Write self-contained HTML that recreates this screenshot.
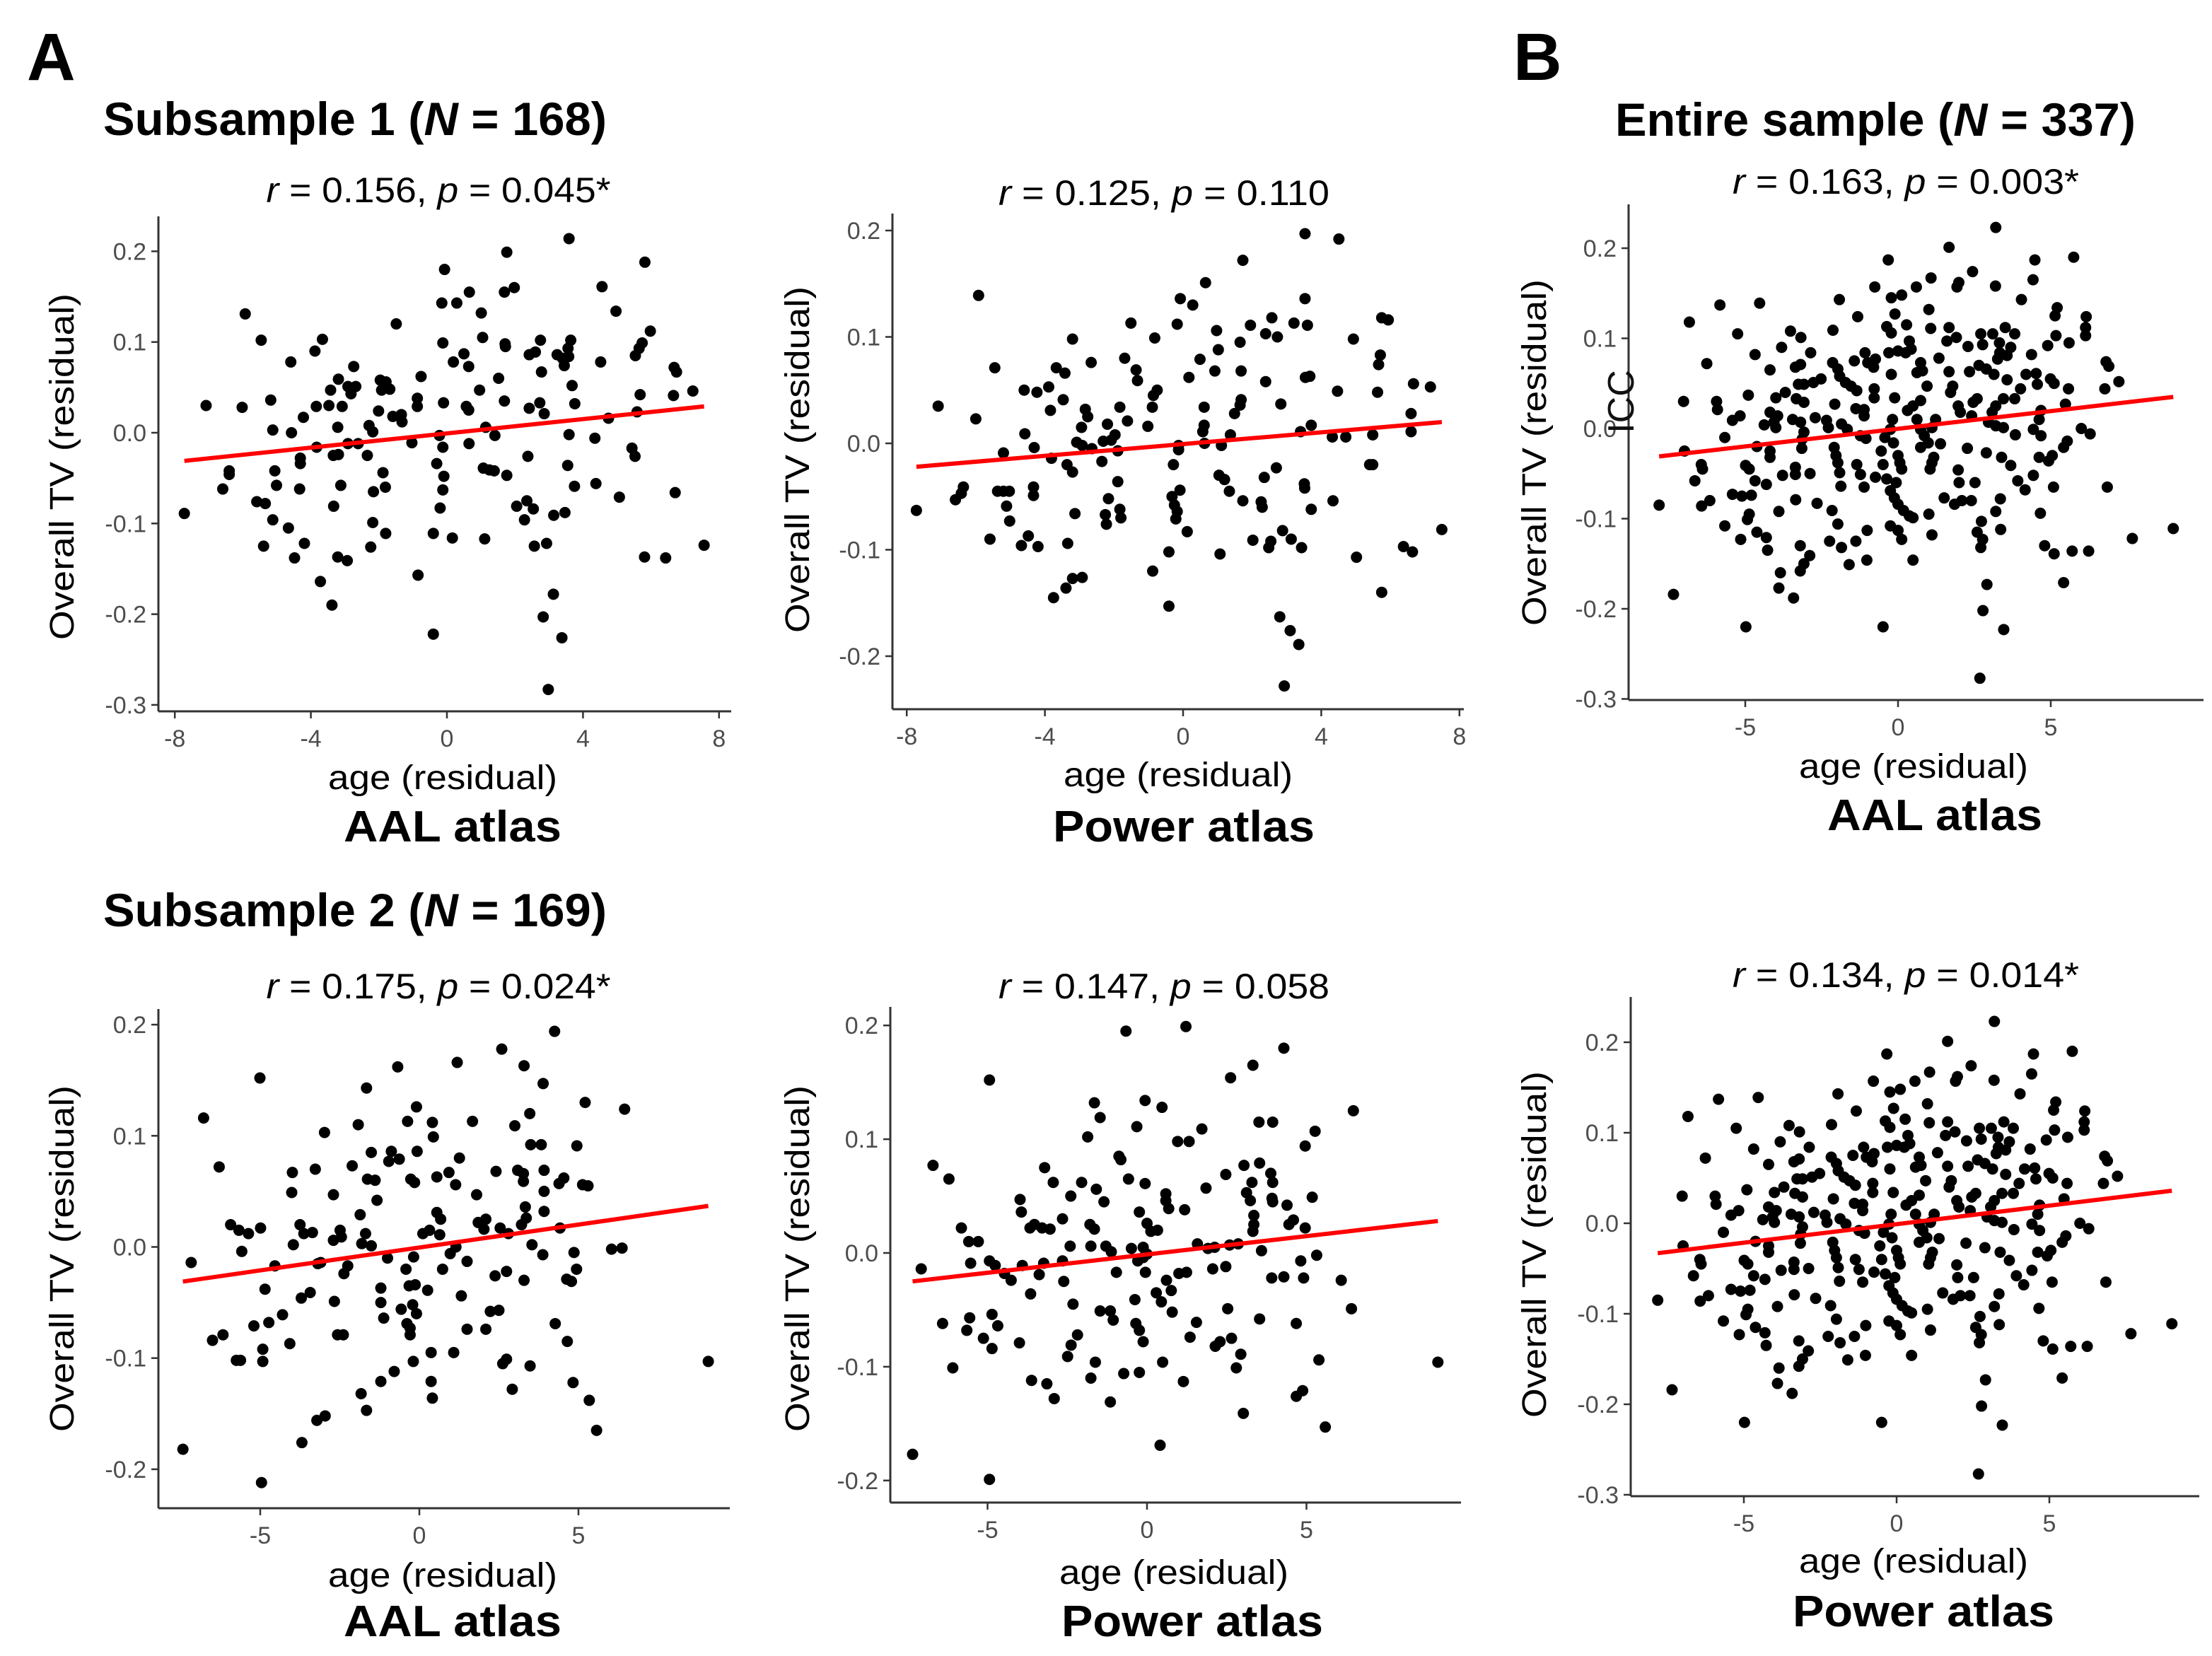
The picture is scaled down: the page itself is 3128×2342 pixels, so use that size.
<!DOCTYPE html>
<html><head><meta charset="utf-8"><title>Overall TV vs age</title>
<style>
html,body{margin:0;padding:0;background:#fff;}
svg{display:block;font-family:"Liberation Sans",Arial,sans-serif;}
</style></head>
<body>
<svg id="fig" xmlns="http://www.w3.org/2000/svg" width="3128" height="2342" viewBox="0 0 3128 2342">
<rect x="0" y="0" width="3128" height="2342" fill="#fff"/>
<text x="38" y="113" font-size="95" font-weight="bold">A</text>
<text x="2140" y="113" font-size="95" font-weight="bold">B</text>
<text x="146" y="191" font-size="66" font-weight="bold" textLength="712" lengthAdjust="spacingAndGlyphs">Subsample 1 (<tspan font-style="italic">N</tspan> = 168)</text>
<text x="146" y="1310" font-size="66" font-weight="bold" textLength="712" lengthAdjust="spacingAndGlyphs">Subsample 2 (<tspan font-style="italic">N</tspan> = 169)</text>
<text x="2284" y="192" font-size="66" font-weight="bold" textLength="736" lengthAdjust="spacingAndGlyphs">Entire sample (<tspan font-style="italic">N</tspan> = 337)</text>
<g id="panels"></g>
<text transform="translate(2310,568) rotate(-90)" text-anchor="middle" font-size="52" fill="#111">ICC</text>
</svg>
<script>
// ---------- data (age residual, Overall TV residual) ----------
const sub1AalPoints = [[-7.72,-0.089],[-7.08,0.030],[-6.59,-0.062],[-6.40,-0.042],[-6.40,-0.046],[-6.02,0.028],[-5.93,0.131],[-5.59,-0.076],[-5.34,-0.078],[-5.46,0.102],[-5.39,-0.125],[-5.18,0.036],[-5.12,0.003],[-5.12,-0.096],[-5.06,-0.042],[-5.01,-0.058],[-4.66,-0.105],[-4.59,0.078],[-4.57,0.0],[-4.48,-0.138],[-4.33,-0.062],[-4.31,-0.028],[-4.31,-0.034],[-4.22,0.017],[-4.19,-0.122],[-3.88,0.090],[-3.84,0.029],[-3.83,-0.016],[-3.72,-0.164],[-3.66,0.103],[-3.47,0.030],[-3.42,0.047],[-3.38,-0.190],[-3.34,-0.025],[-3.19,-0.024],[-3.33,-0.081],[-3.21,0.006],[-3.21,-0.137],[-2.93,-0.141],[-3.19,0.059],[-3.12,-0.058],[-3.08,0.029],[-2.91,0.051],[-2.82,0.043],[-2.68,0.051],[-2.91,-0.012],[-2.61,-0.012],[-2.74,0.073],[-2.34,-0.025],[-2.29,0.008],[-2.18,0.001],[-2.24,-0.126],[-2.18,-0.099],[-2.16,-0.065],[-2.01,0.024],[-1.96,0.058],[-1.79,0.056],[-1.92,0.047],[-1.68,0.048],[-1.88,-0.044],[-1.81,-0.060],[-1.80,-0.111],[-1.59,0.018],[-1.34,0.020],[-1.32,0.012],[-1.49,0.120],[-1.03,-0.011],[-0.87,0.038],[-0.87,0.029],[-0.85,-0.157],[-0.76,0.062],[-0.40,-0.111],[-0.40,-0.222],[-0.30,-0.034],[-0.22,-0.003],[-0.20,-0.083],[-0.15,0.143],[-0.12,0.099],[-0.12,-0.016],[-0.12,-0.063],[-0.10,0.033],[-0.09,-0.048],[-0.07,0.180],[0.16,-0.116],[0.19,0.078],[0.29,0.143],[0.50,0.087],[0.57,0.029],[0.64,0.025],[0.64,0.073],[0.65,-0.012],[0.66,0.155],[0.96,0.047],[1.01,0.132],[1.05,0.105],[1.07,-0.039],[1.25,-0.041],[1.39,-0.042],[1.11,-0.117],[1.14,0.006],[1.41,-0.003],[1.52,0.060],[1.69,0.155],[1.98,0.160],[1.69,0.035],[1.71,0.098],[1.72,0.095],[1.76,-0.047],[1.76,0.199],[2.05,-0.081],[2.28,-0.096],[2.35,-0.075],[2.54,-0.084],[2.38,-0.026],[2.42,0.027],[2.42,0.086],[2.60,0.089],[2.57,-0.125],[2.93,-0.122],[2.73,0.033],[2.75,0.102],[2.78,0.067],[2.83,-0.203],[2.86,0.021],[2.98,-0.283],[3.13,-0.178],[3.14,-0.091],[3.47,-0.088],[3.24,0.086],[3.40,0.082],[3.45,0.074],[3.58,0.084],[3.64,0.102],[3.56,0.093],[3.38,-0.226],[3.55,-0.036],[3.59,-0.002],[3.59,0.214],[3.68,0.052],[3.75,-0.059],[3.76,0.032],[4.35,-0.006],[4.38,-0.056],[4.52,0.078],[4.56,0.161],[4.75,0.016],[4.97,0.134],[5.07,-0.071],[5.44,-0.017],[5.53,-0.026],[5.54,0.085],[5.65,0.093],[5.74,0.099],[5.59,0.023],[5.68,0.042],[5.81,-0.137],[5.82,0.188],[5.98,0.112],[6.43,-0.138],[6.66,0.041],[6.68,0.072],[6.75,0.067],[6.71,-0.066],[7.23,0.046],[7.56,-0.124]];

const sub1PowerPoints = [[-7.72,-0.063],[-7.09,0.035],[-6.59,-0.053],[-6.42,-0.047],[-6.36,-0.041],[-6.00,0.023],[-5.92,0.139],[-5.59,-0.090],[-5.45,0.071],[-5.37,-0.045],[-5.20,-0.045],[-5.03,-0.045],[-5.20,-0.009],[-5.11,-0.059],[-5.02,-0.073],[-4.68,-0.096],[-4.48,-0.087],[-4.60,0.050],[-4.58,0.009],[-4.33,-0.041],[-4.33,-0.049],[-4.31,-0.004],[-4.23,0.048],[-4.20,-0.097],[-3.89,0.053],[-3.84,0.031],[-3.81,-0.014],[-3.75,-0.145],[-3.67,0.071],[-3.42,0.066],[-3.47,0.041],[-3.39,-0.136],[-3.20,-0.127],[-2.92,-0.126],[-3.36,-0.020],[-3.20,-0.027],[-3.34,-0.094],[-3.20,0.098],[-3.13,-0.066],[-3.08,0.001],[-2.92,-0.002],[-2.94,0.015],[-2.83,0.032],[-2.76,0.025],[-2.66,0.076],[-2.64,-0.005],[-2.35,-0.017],[-2.31,0.002],[-2.08,0.003],[-1.97,0.008],[-2.25,-0.067],[-2.22,-0.076],[-2.19,0.018],[-2.16,-0.052],[-1.89,-0.036],[-1.89,-0.007],[-1.83,0.034],[-1.83,-0.062],[-1.80,-0.070],[-1.69,0.080],[-1.61,0.021],[-1.51,0.113],[-1.36,0.069],[-1.32,0.059],[-1.02,0.016],[-0.89,0.034],[-0.86,0.045],[-0.75,0.050],[-0.88,-0.120],[-0.82,0.099],[-0.41,-0.102],[-0.41,-0.153],[-0.32,-0.050],[-0.25,-0.058],[-0.17,-0.064],[-0.21,-0.071],[-0.28,-0.020],[-0.17,0.112],[-0.13,-0.006],[-0.13,-0.002],[-0.09,-0.044],[-0.08,0.136],[0.12,-0.083],[0.17,0.062],[0.28,0.130],[0.49,0.079],[0.57,0.011],[0.61,0.017],[0.61,0.034],[0.62,0.000],[0.65,0.151],[0.92,0.068],[0.97,0.106],[1.02,0.088],[1.04,-0.030],[1.20,-0.034],[1.07,-0.104],[1.11,-0.002],[1.34,-0.045],[1.37,0.008],[1.49,0.028],[1.65,0.036],[1.68,0.041],[1.65,0.095],[1.68,0.068],[1.73,0.172],[1.73,-0.054],[1.95,0.111],[2.02,-0.091],[2.26,-0.055],[2.29,-0.060],[2.35,-0.032],[2.39,0.058],[2.39,0.103],[2.73,0.100],[2.48,-0.098],[2.54,-0.092],[2.57,0.118],[2.70,-0.023],[2.80,-0.163],[2.83,0.037],[2.88,-0.082],[3.13,-0.090],[3.43,-0.098],[2.93,-0.228],[3.10,-0.176],[3.21,0.113],[3.35,-0.189],[3.40,0.011],[3.51,-0.038],[3.52,-0.042],[3.53,0.197],[3.53,0.136],[3.54,0.062],[3.67,0.063],[3.60,0.111],[3.71,0.017],[3.71,-0.062],[4.32,0.006],[4.34,-0.054],[4.47,0.049],[4.51,0.192],[4.71,0.006],[4.93,0.098],[5.02,-0.107],[5.40,-0.020],[5.49,-0.020],[5.49,0.008],[5.63,0.048],[5.66,0.074],[5.71,0.083],[5.75,-0.140],[5.75,0.118],[5.94,0.116],[6.38,-0.097],[6.64,-0.102],[6.60,0.028],[6.60,0.011],[6.67,0.056],[7.16,0.053],[7.49,-0.081]];

const entireSamplePoints = [[3.20,0.223],[1.67,0.201],[-0.32,0.187],[4.48,0.187],[5.75,0.190],[2.44,0.174],[1.08,0.167],[4.42,0.165],[-0.76,0.157],[0.60,0.157],[1.93,0.157],[1.99,0.162],[3.19,0.158],[-0.22,0.145],[0.12,0.148],[-1.92,0.143],[4.04,0.143],[-5.83,0.137],[-4.53,0.139],[1.01,0.132],[5.21,0.134],[5.14,0.125],[-0.10,0.127],[-1.32,0.124],[6.16,0.124],[-6.83,0.118],[0.28,0.115],[-0.37,0.113],[-0.22,0.106],[1.07,0.111],[1.67,0.112],[-2.13,0.109],[-3.52,0.108],[6.14,0.112],[6.14,0.103],[-5.25,0.105],[-3.18,0.101],[2.71,0.105],[3.10,0.105],[3.51,0.112],[3.82,0.105],[1.91,0.101],[1.60,0.097],[2.77,0.093],[3.32,0.095],[3.69,0.090],[5.17,0.103],[5.60,0.095],[4.90,0.092],[2.29,0.091],[0.37,0.097],[0.43,0.088],[0.25,0.084],[0.0,0.086],[-0.30,0.084],[-3.81,0.090],[-4.68,0.082],[-2.86,0.084],[-1.08,0.084],[4.37,0.082],[3.33,0.084],[3.26,0.077],[3.57,0.081],[1.34,0.078],[-1.43,0.075],[-0.99,0.073],[-0.74,0.077],[-0.80,0.068],[-6.26,0.072],[-2.14,0.073],[-1.97,0.066],[-1.91,0.058],[-3.36,0.068],[-3.19,0.071],[0.74,0.073],[0.80,0.064],[6.81,0.074],[6.90,0.069],[-4.19,0.065],[2.65,0.070],[2.89,0.066],[3.14,0.060],[1.67,0.063],[2.34,0.063],[0.62,0.062],[-0.22,0.060],[4.19,0.060],[4.52,0.061],[3.57,0.054],[4.99,0.055],[5.11,0.050],[-2.52,0.055],[-2.77,0.051],[-3.08,0.049],[-3.26,0.049],[-1.72,0.051],[-1.54,0.047],[-1.35,0.042],[7.23,0.052],[0.95,0.047],[4.56,0.049],[1.79,0.047],[1.72,0.040],[4.01,0.044],[5.58,0.044],[6.77,0.044],[-0.78,0.044],[-0.78,0.034],[-3.69,0.040],[-4.00,0.034],[-4.90,0.037],[-7.02,0.030],[-5.94,0.030],[-5.91,0.021],[-3.33,0.033],[-3.08,0.029],[-0.11,0.034],[0.74,0.031],[0.49,0.025],[0.31,0.020],[2.59,0.033],[2.46,0.029],[3.45,0.033],[3.82,0.033],[3.20,0.025],[3.08,0.018],[-2.07,0.027],[-1.38,0.022],[-1.11,0.021],[-1.11,0.014],[1.97,0.025],[2.04,0.018],[2.41,0.014],[5.48,0.027],[4.68,0.020],[4.62,0.010],[-4.19,0.018],[-3.94,0.014],[-4.06,0.007],[-4.00,0.001],[-5.17,0.014],[-5.42,0.009],[-3.45,0.010],[-3.19,0.007],[-2.71,0.012],[-2.34,0.009],[-2.28,0.001],[-1.85,0.005],[-1.66,-0.001],[-0.18,0.010],[-0.25,-0.001],[-0.43,-0.010],[1.23,0.010],[1.11,0.001],[0.62,0.010],[0.74,-0.001],[2.96,0.007],[3.20,0.003],[3.45,0.001],[-4.38,0.004],[6.00,0.0],[6.29,-0.006],[4.43,-0.001],[4.68,-0.008],[3.84,-0.007],[-5.67,-0.010],[-3.08,-0.004],[-3.14,-0.012],[-1.23,-0.008],[-1.05,-0.011],[0.86,-0.008],[0.99,-0.016],[0.74,-0.021],[1.39,-0.017],[5.54,-0.014],[5.42,-0.021],[-0.15,-0.016],[-4.62,-0.020],[-4.19,-0.025],[-4.19,-0.032],[-2.09,-0.021],[-2.03,-0.030],[-3.15,-0.022],[-6.99,-0.025],[-0.55,-0.025],[2.27,-0.022],[2.89,-0.027],[0.0,-0.030],[0.06,-0.038],[0.12,-0.045],[1.17,-0.032],[1.11,-0.038],[1.05,-0.045],[3.39,-0.032],[3.69,-0.041],[4.62,-0.032],[4.93,-0.036],[5.05,-0.030],[-6.44,-0.040],[-6.40,-0.045],[-4.99,-0.041],[-4.87,-0.045],[-1.97,-0.038],[-1.91,-0.049],[-1.35,-0.040],[-1.23,-0.051],[-0.49,-0.040],[-3.36,-0.043],[-3.36,-0.051],[-2.88,-0.050],[-3.78,-0.052],[1.97,-0.046],[4.43,-0.052],[-6.65,-0.058],[-4.68,-0.058],[-4.31,-0.062],[-0.74,-0.054],[-0.37,-0.056],[-0.06,-0.060],[2.00,-0.060],[2.52,-0.060],[3.92,-0.058],[4.16,-0.068],[-1.87,-0.064],[-1.11,-0.065],[5.09,-0.065],[6.85,-0.065],[-0.25,-0.069],[-0.12,-0.077],[0.0,-0.084],[0.18,-0.091],[0.37,-0.097],[0.49,-0.099],[-5.42,-0.073],[-5.11,-0.075],[-4.80,-0.074],[1.51,-0.077],[1.85,-0.084],[2.09,-0.080],[2.40,-0.080],[3.35,-0.078],[-3.35,-0.079],[-6.16,-0.080],[-6.43,-0.086],[-7.82,-0.085],[-2.65,-0.083],[-2.16,-0.091],[-3.90,-0.092],[3.20,-0.092],[1.01,-0.095],[4.66,-0.094],[-4.87,-0.095],[-4.93,-0.101],[2.73,-0.103],[-1.97,-0.106],[-5.67,-0.108],[-0.25,-0.108],[0.0,-0.113],[0.12,-0.123],[3.36,-0.112],[-1.01,-0.113],[-4.62,-0.115],[-4.31,-0.121],[1.11,-0.118],[2.59,-0.115],[2.77,-0.123],[2.71,-0.132],[-5.15,-0.123],[-1.38,-0.125],[-2.24,-0.125],[-1.85,-0.132],[-3.20,-0.130],[4.80,-0.130],[5.11,-0.139],[-4.27,-0.135],[5.70,-0.136],[6.24,-0.136],[-2.89,-0.141],[-3.08,-0.150],[-3.20,-0.158],[-1.02,-0.146],[0.49,-0.146],[-1.60,-0.151],[7.67,-0.122],[9.01,-0.111],[-3.85,-0.160],[5.42,-0.171],[2.91,-0.173],[-3.90,-0.177],[-7.35,-0.184],[-3.42,-0.188],[2.78,-0.202],[-4.98,-0.220],[-0.49,-0.220],[3.46,-0.223],[2.68,-0.277]];

const sub2AalPoints = [[-7.43,-0.182],[-7.17,-0.014],[-6.78,0.116],[-6.29,0.072],[-6.50,-0.084],[-6.17,-0.079],[-5.93,0.020],[-5.67,0.015],[-5.37,0.012],[-5.75,-0.102],[-5.62,-0.102],[-5.58,-0.004],[-5.20,-0.071],[-5.01,0.152],[-4.99,0.017],[-4.96,-0.212],[-4.92,-0.092],[-4.92,-0.103],[-4.85,-0.038],[-4.73,-0.068],[-4.54,-0.017],[-4.30,-0.061],[-4.07,-0.087],[-4.01,0.049],[-3.99,0.067],[-3.96,0.002],[-3.75,0.020],[-3.63,0.012],[-3.36,0.013],[-3.71,-0.046],[-3.43,-0.041],[-3.69,-0.176],[-3.27,0.070],[-3.19,-0.015],[-3.10,-0.014],[-3.22,-0.156],[-2.96,-0.152],[-2.98,0.103],[-2.70,0.047],[-2.70,0.006],[-2.45,0.009],[-2.49,0.015],[-2.67,-0.049],[-2.57,-0.079],[-2.39,-0.079],[-2.37,-0.024],[-2.25,-0.017],[-2.11,0.073],[-1.92,0.110],[-1.86,0.029],[-1.83,-0.132],[-1.69,0.012],[-1.81,0.003],[-1.51,0.001],[-1.66,0.143],[-1.66,-0.147],[-1.63,0.061],[-1.39,0.060],[-1.51,0.085],[-1.33,0.042],[-1.21,-0.121],[-1.21,-0.037],[-1.21,-0.050],[-1.12,-0.064],[-1.00,-0.010],[-0.88,0.086],[-0.63,0.079],[-0.96,0.077],[-0.79,-0.112],[-0.68,0.162],[-0.57,-0.056],[-0.42,-0.020],[-0.39,-0.069],[-0.29,-0.073],[-0.29,-0.079],[-0.37,0.113],[-0.27,0.061],[-0.15,0.058],[-0.32,-0.035],[-0.13,-0.034],[-0.21,-0.052],[-0.09,-0.060],[-0.19,-0.103],[-0.18,-0.009],[-0.09,0.126],[-0.07,0.086],[0.11,0.012],[0.32,0.015],[0.26,-0.039],[0.37,-0.095],[0.37,-0.121],[0.41,-0.136],[0.41,0.112],[0.44,0.099],[0.55,0.063],[0.55,0.031],[0.67,0.025],[0.64,0.011],[0.73,-0.020],[0.93,0.067],[0.97,-0.006],[1.15,0.000],[1.08,-0.095],[1.14,0.056],[1.19,0.166],[1.26,0.080],[1.32,-0.044],[1.50,-0.013],[1.50,-0.074],[1.67,0.113],[1.80,0.047],[1.85,0.022],[2.09,0.025],[2.03,0.016],[2.09,-0.074],[2.23,-0.058],[2.50,-0.057],[2.38,-0.026],[2.74,-0.022],[2.41,0.068],[2.54,0.017],[2.80,0.012],[2.59,0.178],[2.62,-0.105],[2.74,-0.101],[2.92,-0.128],[3.00,0.109],[3.09,0.069],[3.27,0.066],[3.27,0.059],[3.21,0.020],[3.29,0.163],[3.29,-0.030],[3.33,0.036],[3.36,0.026],[3.47,0.120],[3.48,-0.107],[3.50,0.092],[3.83,0.092],[3.54,0.002],[3.88,-0.007],[3.89,0.147],[3.92,0.069],[3.92,0.050],[3.92,0.032],[4.25,0.194],[4.27,-0.069],[4.39,0.057],[4.54,0.062],[4.42,0.017],[4.63,-0.029],[4.78,-0.031],[4.65,-0.085],[4.83,-0.122],[4.86,-0.005],[4.94,-0.020],[4.95,0.091],[5.13,0.056],[5.30,0.055],[5.21,0.130],[5.34,-0.138],[5.57,-0.165],[6.04,-0.002],[6.37,-0.001],[6.45,0.124],[9.08,-0.103]];

const sub2PowerPoints = [[-7.35,-0.177],[-7.08,-0.014],[-6.71,0.077],[-6.41,-0.062],[-6.21,0.065],[-6.09,-0.101],[-5.82,0.022],[-5.65,-0.068],[-5.56,-0.057],[-5.59,0.010],[-5.29,0.010],[-5.53,-0.009],[-5.13,-0.075],[-4.94,0.152],[-4.94,-0.199],[-4.94,-0.007],[-4.76,-0.011],[-4.86,-0.054],[-4.68,-0.064],[-4.86,-0.084],[-4.47,-0.018],[-4.26,-0.024],[-4.00,-0.079],[-3.98,0.047],[-3.94,0.036],[-3.91,-0.011],[-3.67,0.022],[-3.53,0.025],[-3.29,0.022],[-3.04,0.021],[-3.65,-0.036],[-3.62,-0.112],[-3.14,-0.115],[-3.38,-0.019],[-3.24,-0.009],[-3.21,0.075],[-2.94,0.062],[-2.91,-0.128],[-2.65,0.030],[-2.65,-0.007],[-2.61,-0.025],[-2.49,-0.091],[-2.38,-0.081],[-2.18,-0.072],[-2.41,0.006],[-2.39,0.050],[-2.32,-0.045],[-2.05,0.062],[-1.86,0.102],[-1.79,0.025],[-1.65,0.021],[-1.76,0.006],[-1.76,-0.110],[-1.65,0.132],[-1.62,-0.096],[-1.59,0.056],[-1.47,0.119],[-1.47,-0.051],[-1.15,-0.051],[-1.06,-0.059],[-1.35,0.045],[-1.29,0.006],[-1.12,0.001],[-1.15,-0.131],[-0.96,-0.017],[-0.88,0.085],[-0.82,0.082],[-0.73,-0.106],[-0.66,0.195],[-0.58,0.065],[-0.49,0.004],[-0.38,-0.041],[-0.35,-0.062],[-0.24,-0.068],[-0.12,-0.078],[-0.32,0.111],[-0.29,-0.007],[-0.12,-0.004],[0.0,-0.001],[-0.24,0.036],[-0.24,-0.105],[-0.12,0.005],[-0.06,0.134],[-0.06,0.061],[-0.05,-0.017],[0.0,0.026],[0.12,0.019],[0.33,0.020],[0.29,-0.035],[0.45,-0.043],[0.41,-0.169],[0.47,0.128],[0.49,-0.096],[0.59,0.052],[0.59,0.046],[0.68,0.039],[0.61,-0.024],[0.76,-0.033],[0.79,-0.052],[0.96,0.098],[1.32,0.098],[1.00,-0.018],[1.24,-0.017],[1.14,-0.113],[1.18,0.038],[1.22,0.199],[1.35,-0.074],[1.55,-0.061],[1.58,0.008],[1.72,0.109],[1.85,0.057],[1.91,0.004],[2.12,0.005],[2.06,-0.014],[2.47,-0.012],[2.14,-0.082],[2.29,-0.078],[2.47,0.069],[2.53,-0.049],[2.59,0.007],[2.86,0.008],[2.62,0.154],[2.65,-0.075],[2.80,-0.101],[2.94,-0.089],[3.02,-0.141],[3.04,0.077],[3.12,0.053],[3.24,0.046],[3.29,0.062],[3.32,0.165],[3.35,0.033],[3.35,0.025],[3.32,0.019],[3.51,0.115],[3.94,0.115],[3.53,0.079],[3.53,-0.058],[3.59,0.002],[3.88,0.070],[3.94,0.062],[3.92,0.048],[3.94,0.045],[3.91,-0.022],[4.29,-0.021],[4.29,0.180],[4.39,0.042],[4.45,0.025],[4.59,0.029],[4.68,-0.062],[4.68,-0.126],[4.88,-0.121],[4.82,-0.007],[4.91,-0.022],[4.96,0.094],[4.96,0.022],[5.18,0.049],[5.27,0.107],[5.32,-0.002],[5.39,-0.094],[5.59,-0.153],[6.09,-0.024],[6.41,-0.049],[6.47,0.125],[9.12,-0.096]];

// fitted regression lines: [slope, intercept] per panel
const fitSlopes = [0.00393, 0.00276, 0.00392, 0.00412, 0.00322, 0.0041];
const fitIntercepts = [-0.0007, -0.0007, -0.0003, -0.0005, -0.0013, -0.001];

// tick labels
const xTicksWide = [-8, -4, 0, 4, 8];
const xTicksFive = [-5, 0, 5];
const yTicksA = [0.2, 0.1, 0.0, -0.1, -0.2, -0.3];
const yTicksB = [0.2, 0.1, 0.0, -0.1, -0.2];

// correlation subtitles
const statR = ["0.156", "0.125", "0.163", "0.175", "0.147", "0.134"];
const statP = ["0.045*", "0.110", "0.003*", "0.024*", "0.058", "0.014*"];

// ---------- layout ----------
const NS = "http://www.w3.org/2000/svg";
const root = document.getElementById("panels");
function mk(tag, attrs, parent) {
  const e = document.createElementNS(NS, tag);
  for (const k in attrs) e.setAttribute(k, attrs[k]);
  (parent || root).appendChild(e);
  return e;
}

const layouts = [
  {key:"sub1-aal", left:224, bottom:1006, top:306, right:1034, x0:632, kx:48.1, y0:612, ky:1283, xt:xTicksWide, yt:yTicksA,
   sub:{x:620, y:286, w:487}, ylab:{x:104, y:660}, xlab:{x:626, y:1116}, atlas:{x:640, y:1190, t:"AAL atlas", w:308}},
  {key:"sub1-power", left:1262, bottom:1003, top:302, right:2070, x0:1673, kx:48.85, y0:627, ky:1505, xt:xTicksWide, yt:yTicksB,
   sub:{x:1646, y:290, w:468}, ylab:{x:1144, y:650}, xlab:{x:1666, y:1112}, atlas:{x:1674, y:1190, t:"Power atlas", w:370}},
  {key:"entire-aal", left:2303, bottom:990, top:289, right:3116, x0:2684, kx:43.2, y0:606, ky:1275, xt:xTicksFive, yt:yTicksA,
   sub:{x:2695, y:274, w:490}, ylab:{x:2186, y:640}, xlab:{x:2706, y:1100}, atlas:{x:2736, y:1174, t:"AAL atlas", w:304}},
  {key:"sub2-aal", left:224, bottom:2133, top:1427, right:1032, x0:593, kx:45.0, y0:1763.5, ky:1572, xt:xTicksFive, yt:yTicksB,
   sub:{x:620, y:1412, w:487}, ylab:{x:104, y:1780}, xlab:{x:626, y:2244}, atlas:{x:640, y:2314, t:"AAL atlas", w:308}},
  {key:"sub2-power", left:1259, bottom:2125, top:1424, right:2066, x0:1622, kx:45.1, y0:1772, ky:1609, xt:xTicksFive, yt:yTicksB,
   sub:{x:1646, y:1412, w:468}, ylab:{x:1144, y:1780}, xlab:{x:1660, y:2240}, atlas:{x:1686, y:2314, t:"Power atlas", w:370}},
  {key:"entire-power", left:2306, bottom:2116, top:1410, right:3110, x0:2682, kx:43.2, y0:1730, ky:1280, xt:xTicksFive, yt:yTicksA,
   sub:{x:2695, y:1396, w:490}, ylab:{x:2186, y:1760}, xlab:{x:2706, y:2224}, atlas:{x:2720, y:2300, t:"Power atlas", w:370}}
];
const panelData = [sub1AalPoints, sub1PowerPoints, entireSamplePoints, sub2AalPoints, sub2PowerPoints, entireSamplePoints];

layouts.forEach(function(L, i) {
  const pts = panelData[i];
  const xs = function(v){ return L.x0 + L.kx * v; };
  const ys = function(v){ return L.y0 - L.ky * v; };
  const g = mk("g", {});
  
  

  const ya = mk("line", {x1:L.left, y1:L.top, x2:L.left, y2:L.bottom, stroke:"#333", "stroke-width":3}, g);
  
  
  const xa = mk("line", {x1:L.left, y1:L.bottom, x2:L.right, y2:L.bottom, stroke:"#333", "stroke-width":3}, g);
  
  

  L.yt.forEach(function(t) {
    const py = ys(t);
    const tk = mk("line", {x1:L.left-10, y1:py, x2:L.left, y2:py, stroke:"#333", "stroke-width":2.5}, g);
    
    
    const tl = mk("text", {x:L.left-17, y:py+12, "text-anchor":"end", "font-size":34, fill:"#4d4d4d"}, g);
    tl.textContent = t.toFixed(1);
    
    
  });
  L.xt.forEach(function(t) {
    const px = xs(t);
    const tk = mk("line", {x1:px, y1:L.bottom, x2:px, y2:L.bottom+10, stroke:"#333", "stroke-width":2.5}, g);
    
    
    const tl = mk("text", {x:px, y:L.bottom+50, "text-anchor":"middle", "font-size":34, fill:"#4d4d4d"}, g);
    tl.textContent = String(t);
    
    
  });

  pts.forEach(function(p) {
    const c = mk("circle", {cx:xs(p[0]), cy:ys(p[1]), r:8, fill:"#000"}, g);
    
    
  });

  let mn = Infinity, mx = -Infinity;
  pts.forEach(function(p){ if (p[0] < mn) mn = p[0]; if (p[0] > mx) mx = p[0]; });
  const s = fitSlopes[i], b = fitIntercepts[i];
  const fl = mk("line", {x1:xs(mn), y1:ys(b + s*mn), x2:xs(mx), y2:ys(b + s*mx), stroke:"#ff0000", "stroke-width":6}, g);
  
  

  const st = mk("text", {x:L.sub.x, y:L.sub.y, "text-anchor":"middle", "font-size":50, fill:"#000", textLength:L.sub.w, lengthAdjust:"spacingAndGlyphs"}, g);
  
  
  const t1 = mk("tspan", {"font-style":"italic"}, st); t1.textContent = "r";
  const t2 = mk("tspan", {}, st); t2.textContent = " = " + statR[i] + ", ";
  const t3 = mk("tspan", {"font-style":"italic"}, st); t3.textContent = "p";
  const t4 = mk("tspan", {}, st); t4.textContent = " = " + statP[i];

  const yl = mk("text", {transform:"translate(" + L.ylab.x + "," + L.ylab.y + ") rotate(-90)", "text-anchor":"middle", "font-size":48, fill:"#000", textLength:490, lengthAdjust:"spacingAndGlyphs"}, g);
  yl.textContent = "Overall TV (residual)";
  
  
  const xl = mk("text", {x:L.xlab.x, y:L.xlab.y, "text-anchor":"middle", "font-size":48, fill:"#000", textLength:324, lengthAdjust:"spacingAndGlyphs"}, g);
  xl.textContent = "age (residual)";
  
  
  const at = mk("text", {x:L.atlas.x, y:L.atlas.y, "text-anchor":"middle", "font-size":62, "font-weight":"bold", fill:"#000", textLength:L.atlas.w, lengthAdjust:"spacingAndGlyphs"}, g);
  at.textContent = L.atlas.t;
  
  
});
</script>
</body></html>
